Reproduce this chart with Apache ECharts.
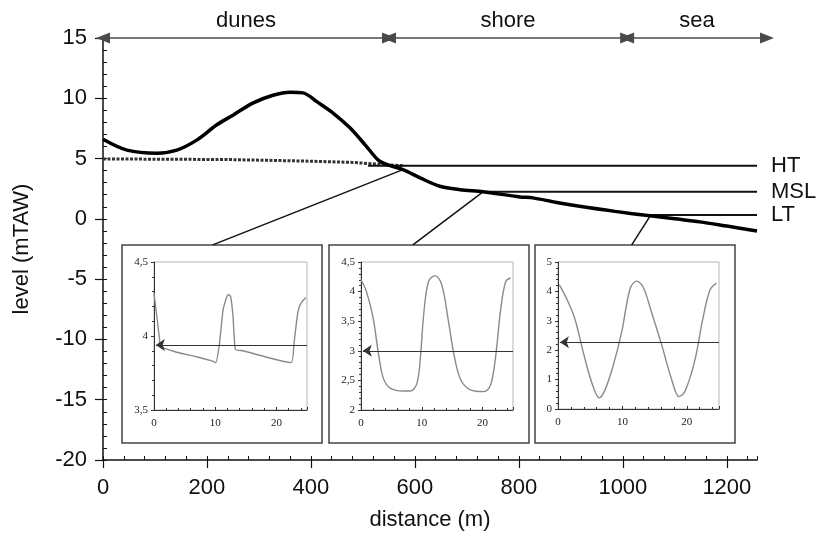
<!DOCTYPE html>
<html>
<head>
<meta charset="utf-8">
<script src="https://cdn.jsdelivr.net/npm/echarts@6/dist/echarts.min.js"></script>
<style>
  html, body { margin: 0; padding: 0; background: #fff; }
  #chart { width: 828px; height: 533px; }
</style>
</head>
<body>
<div id="chart"></div>
<script>
// beach profile (m, mTAW)
var distance = [0, 46, 104, 142, 181, 219, 250, 288, 327, 360, 385, 412, 442, 475, 505, 530, 550, 577, 610, 648, 687, 731, 802, 827, 870, 923, 985, 1052, 1100, 1148, 1200, 1258];
var level = [6.6, 5.7, 5.45, 5.7, 6.55, 7.8, 8.6, 9.6, 10.25, 10.5, 10.45, 9.7, 8.8, 7.55, 6.1, 4.85, 4.45, 4.08, 3.4, 2.7, 2.42, 2.24, 1.82, 1.74, 1.38, 1.0, 0.62, 0.25, 0.0, -0.25, -0.6, -1.0];

// groundwater table
var wtDistance = [0, 240, 380, 480, 540, 580];
var wtLevel = [4.97, 4.92, 4.8, 4.68, 4.5, 4.4];

// tide levels
var tideNames = ['HT', 'MSL', 'LT'];
var tideLevels = [4.4, 2.24, 0.33];
var tideStart = [510, 731, 1040];
var tideEnd = 1258;

// zones on top
var zoneNames = ['dunes', 'shore', 'sea'];
var zoneBounds = [0, 550, 1008, 1277];

// lines from profile to the insets
var connFrom = [[577, 4.08], [731, 2.24], [1052, 0.2]];
var connTo = [[211, -2.16], [596, -2.16], [1017, -2.16]];

// insets: time (h) vs head (m)
var inset1T = [0, 0.9, 1.0, 3.7, 6.9, 9.6, 10.1, 10.7, 11.3, 12.1, 12.5, 12.9, 13.3, 14.5, 22.4, 22.9, 23.5, 24.0, 24.8];
var inset1Y = [4.29, 3.98, 3.93, 3.89, 3.86, 3.83, 3.82, 3.95, 4.18, 4.28, 4.27, 4.14, 3.91, 3.90, 3.82, 3.96, 4.16, 4.22, 4.26];
var inset2T = [0, 0.9, 2.0, 2.9, 3.7, 4.8, 7.0, 8.1, 9.2, 9.8, 10.3, 11.1, 12.2, 13.3, 14.4, 15.3, 16.4, 18.0, 20.2, 21.3, 22.1, 23.0, 23.8, 24.6];
var inset2Y = [4.2, 4.0, 3.55, 2.93, 2.53, 2.37, 2.32, 2.32, 2.45, 2.93, 3.6, 4.17, 4.27, 4.11, 3.49, 2.93, 2.51, 2.34, 2.31, 2.42, 2.87, 3.72, 4.17, 4.23];
var inset3T = [0.2, 1.3, 2.6, 3.9, 5.2, 6.4, 7.3, 8.6, 9.9, 11.2, 12.2, 13.2, 14.5, 16.1, 17.6, 18.8, 19.7, 21.2, 22.5, 23.6, 24.6];
var inset3Y = [4.22, 3.77, 3.08, 1.95, 0.93, 0.38, 0.65, 1.5, 2.63, 4.1, 4.35, 4.16, 3.31, 2.18, 1.04, 0.42, 0.59, 1.61, 3.08, 4.05, 4.28];
var insetMean = [3.94, 3.0, 2.27];
var insetYMin = [3.5, 2, 0];
var insetYMax = [4.5, 4.5, 5];
var insetYStep = [0.5, 0.5, 1];

var zip = function (a, b) { return a.map(function (v, i) { return [v, b[i]]; }); };
var comma = function (v) { return String(v).replace('.', ','); };
var plain = function (v) { return String(v); };

var font = 'Liberation Sans, Arial, sans-serif';
var serif = 'Liberation Serif, Times New Roman, serif';

var myChart = echarts.init(document.getElementById('chart'));

var insetGrids = [
    { left: 154, top: 262, width: 153, height: 148 },
    { left: 361, top: 262, width: 152, height: 148 },
    { left: 558, top: 262, width: 161, height: 147 }
];
var boxes = [[122, 245, 200, 198], [329, 245, 200, 198], [535, 245, 200, 198]];

var grids = [
    { left: 103, right: 71, top: 38, bottom: 73, outerBoundsMode: 'none' }
];
insetGrids.forEach(function (g) {
    grids.push(Object.assign({ show: true, borderColor: '#b5b5b5', borderWidth: 1, backgroundColor: 'transparent', outerBoundsMode: 'none' }, g));
});
// hidden grid for the zone arrows on top
grids.push({ left: 103, right: 61, top: 38, height: 10, outerBoundsMode: 'none' });

var xAxes = [
    {
        gridIndex: 0, type: 'value', min: 0, max: 1258, interval: 200, position: 'bottom',
        name: 'distance (m)', nameLocation: 'middle', nameGap: 49, nameMoveOverlap: false,
        nameTextStyle: { fontSize: 22, color: '#111', fontFamily: font },
        axisLine: { onZero: false, lineStyle: { color: '#111', width: 1.5 } },
        axisTick: { inside: false, length: 8, lineStyle: { color: '#111', width: 1.2 } },
        axisLabel: { fontSize: 22, color: '#111', fontFamily: font, margin: 17, showMaxLabel: false, formatter: plain },
        splitLine: { show: false }
    },
    {
        gridIndex: 0, type: 'value', min: 0, max: 1258, interval: 40, position: 'bottom',
        axisLine: { show: false, onZero: false }, axisLabel: { show: false }, splitLine: { show: false },
        axisTick: { inside: true, length: 4, lineStyle: { color: '#111', width: 1 } }
    }
];
var yAxes = [
    {
        gridIndex: 0, type: 'value', min: -20, max: 15, interval: 5, position: 'left',
        name: 'level (mTAW)', nameLocation: 'middle', nameGap: 70, nameRotate: 90, nameMoveOverlap: false,
        nameTextStyle: { fontSize: 22, color: '#111', fontFamily: font },
        axisLine: { show: true, onZero: false, lineStyle: { color: '#111', width: 1.5 } },
        axisTick: { show: true, inside: false, length: 8, lineStyle: { color: '#111', width: 1.2 } },
        axisLabel: { fontSize: 22, color: '#111', fontFamily: font, margin: 16 },
        splitLine: { show: false }
    },
    {
        gridIndex: 0, type: 'value', min: -20, max: 15, interval: 1, position: 'left',
        axisLine: { show: false, onZero: false }, axisLabel: { show: false }, splitLine: { show: false },
        axisTick: { show: true, inside: true, length: 4, lineStyle: { color: '#111', width: 1 } }
    }
];

for (var i = 0; i < 3; i++) {
    xAxes.push({
        gridIndex: i + 1, type: 'value', min: 0, max: 25, interval: 10, position: 'bottom',
        axisLine: { onZero: false, lineStyle: { color: '#333', width: 1 } },
        axisTick: { inside: true, length: 3, lineStyle: { color: '#333' } },
        minorTick: { show: true, splitNumber: 5, length: 2, lineStyle: { color: '#333' } },
        axisLabel: { fontSize: 11, color: '#222', fontFamily: serif, margin: 8, showMaxLabel: false },
        splitLine: { show: false }
    });
    yAxes.push({
        gridIndex: i + 1, type: 'value', min: insetYMin[i], max: insetYMax[i], interval: insetYStep[i], position: 'left',
        axisLine: { show: true, onZero: false, lineStyle: { color: '#333', width: 1 } },
        axisTick: { show: true, inside: false, length: 3, lineStyle: { color: '#333' } },
        minorTick: { show: true, splitNumber: 5, length: 2, lineStyle: { color: '#333' } },
        axisLabel: { fontSize: 11, color: '#222', fontFamily: serif, margin: 6, formatter: comma },
        splitLine: { show: false }
    });
}
xAxes.push({ gridIndex: 4, type: 'value', min: 0, max: 1277, show: false });
yAxes.push({ gridIndex: 4, type: 'value', min: 0, max: 1, show: false });

var series = [
    {
        name: 'profile', type: 'line', xAxisIndex: 0, yAxisIndex: 0,
        data: zip(distance, level), smooth: 0.3, showSymbol: false, z: 5,
        lineStyle: { color: '#000', width: 3.5 }
    },
    {
        name: 'water table', type: 'line', xAxisIndex: 0, yAxisIndex: 0,
        data: zip(wtDistance, wtLevel), showSymbol: false, z: 4,
        lineStyle: { color: '#333', width: 3, type: [3, 1.5] }
    }
];
tideNames.forEach(function (n, k) {
    series.push({
        name: n, type: 'line', xAxisIndex: 0, yAxisIndex: 0,
        data: [[tideStart[k], tideLevels[k]], [tideEnd, tideLevels[k]]],
        showSymbol: false, z: 4,
        lineStyle: { color: '#111', width: 2 },
        endLabel: { show: true, formatter: '{a}', fontSize: 22, color: '#111', fontFamily: font, distance: 14 }
    });
});
connFrom.forEach(function (p, k) {
    series.push({
        type: 'line', xAxisIndex: 0, yAxisIndex: 0,
        data: [p, connTo[k]], showSymbol: false, z: 3,
        lineStyle: { color: '#111', width: 1.5 }
    });
});
var insetT = [inset1T, inset2T, inset3T];
var insetY = [inset1Y, inset2Y, inset3Y];
for (var j = 0; j < 3; j++) {
    series.push({
        type: 'line', xAxisIndex: j + 2, yAxisIndex: j + 2,
        data: zip(insetT[j], insetY[j]), smooth: j === 0 ? 0.15 : 0.35, showSymbol: false,
        lineStyle: { color: '#8a8a8a', width: 1.4 },
        markLine: {
            silent: true, symbol: ['arrow', 'none'], symbolSize: 9,
            label: { show: false },
            lineStyle: { color: '#333', width: 1, type: 'solid' },
            data: [[{ coord: [0.3, insetMean[j]] }, { coord: [25, insetMean[j]] }]]
        }
    });
}
series.push({
    type: 'line', xAxisIndex: xAxes.length - 1, yAxisIndex: yAxes.length - 1,
    data: [],
    markLine: {
        silent: true, symbol: ['triangle', 'triangle'], symbolSize: [11, 14],
        lineStyle: { color: '#4a4a4a', width: 1.5, type: 'solid' },
        label: { show: true, position: 'middle', fontSize: 22, color: '#111', fontFamily: font, distance: 6,
                 formatter: function (p) { return p.name; } },
        data: zoneNames.map(function (n, k) {
            return [{ name: n, coord: [zoneBounds[k], 1] }, { coord: [zoneBounds[k + 1], 1] }];
        })
    }
});

var option = {
    backgroundColor: '#fff',
    animation: false,
    grid: grids,
    xAxis: xAxes,
    yAxis: yAxes,
    series: series,
    graphic: boxes.map(function (b) {
        return { type: 'rect', z: 1, shape: { x: b[0], y: b[1], width: b[2], height: b[3] },
                 style: { fill: 'none', stroke: '#444', lineWidth: 1.5 } };
    })
};

option && myChart.setOption(option);
window.addEventListener('resize', function () { myChart.resize(); });
</script>
</body>
</html>
